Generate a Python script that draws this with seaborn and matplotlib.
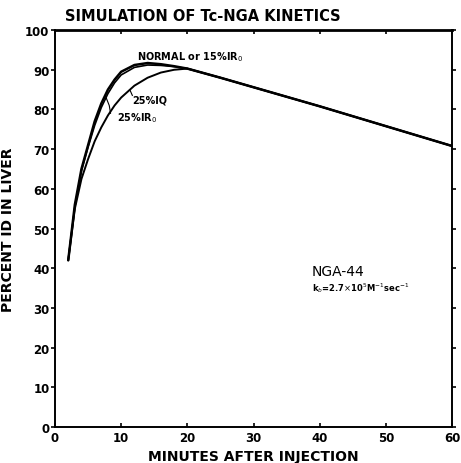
import numpy as np
import pandas as pd
import matplotlib
matplotlib.use("Agg")
import matplotlib.pyplot as plt
import seaborn as sns

sns.set_style("ticks")
plt.rcParams["font.family"] = ["DejaVu Sans"]
plt.rcParams.update({"text.color": "black", "axes.labelcolor": "black",
                     "xtick.color": "black", "ytick.color": "black",
                     "axes.edgecolor": "black"})

# ---- data ----
minutes = [2, 3, 4, 5, 6, 7, 8, 9, 10, 12, 14, 16, 18, 20,
           25, 30, 35, 40, 45, 50, 55, 60]
normal = [42, 56, 65, 71, 77, 81.5, 85, 87.5, 89.5, 91.2, 91.7, 91.4, 90.9, 90.3,
          88.0, 85.6, 83.2, 80.8, 78.3, 75.8, 73.3, 70.8]
iq25 = [42, 55.5, 64.5, 70.5, 76, 80.5, 84, 86.7, 88.7, 90.6, 91.2, 91.1, 90.8, 90.3,
        88.0, 85.6, 83.2, 80.8, 78.3, 75.8, 73.3, 70.8]
ir25 = [42, 55, 62.5, 67.5, 72, 75.5, 78.5, 81, 83, 86, 88, 89.3, 90, 90.3,
        88.0, 85.6, 83.2, 80.8, 78.3, 75.8, 73.3, 70.8]

xticks = [0, 10, 20, 30, 40, 50, 60]
yticks = [0, 10, 20, 30, 40, 50, 60, 70, 80, 90, 100]

df = pd.DataFrame({"min": minutes, "normal": normal, "iq": iq25, "ir": ir25})

fig = plt.figure(figsize=(4.61, 4.64), dpi=100)
ax = fig.add_axes([0.1193, 0.0776, 0.8612, 0.8554])

for col, lw in [("normal", 1.8), ("iq", 1.2), ("ir", 1.4)]:
    sns.lineplot(data=df, x="min", y=col, color="black", lw=lw, ax=ax)

ax.set_xlim(0, 60)
ax.set_ylim(0, 100)
ax.set_xticks(xticks)
ax.set_yticks(yticks)
ax.tick_params(axis="both", labelsize=8.5, width=1.2, length=3, pad=1)
ax.tick_params(axis="x", direction="in", top=True, pad=3)
ax.tick_params(axis="y", direction="out", right=True)
for lab in ax.get_xticklabels() + ax.get_yticklabels():
    lab.set_fontweight("bold")
for s in ax.spines.values():
    s.set_linewidth(1.4)
ax.spines["top"].set_linewidth(2.0)

ax.set_xlabel("MINUTES AFTER INJECTION", fontsize=10, fontweight="bold")
ax.set_ylabel("PERCENT ID IN LIVER", fontsize=10, fontweight="bold")
ax.xaxis.set_label_coords(0.5, -0.055)
ax.yaxis.set_label_coords(-0.10, 0.5)

fig.text(0.141, 0.965, "SIMULATION OF Tc-NGA KINETICS", fontsize=10.5,
         fontweight="bold", va="center", ha="left")

# curve labels
ax.text(12.4, 93.4, r"NORMAL or 15%IR$_0$", fontsize=7, fontweight="bold", va="center")
ax.text(11.6, 82.4, "25%IQ", fontsize=7, fontweight="bold", va="center")
ax.text(9.4, 78.0, r"25%IR$_0$", fontsize=7, fontweight="bold", va="center")
ax.plot([11.3, 11.7], [85.0, 83.5], color="black", lw=0.8)
ax.plot([7.6, 8.2, 8.4], [83.5, 81.0, 79.0], color="black", lw=0.8)

ax.text(38.8, 39.3, "NGA-44", fontsize=10, va="center")
ax.text(38.8, 35.3, r"k$_b$=2.7$\times$10$^5$M$^{-1}$sec$^{-1}$", fontsize=6,
        fontweight="bold", va="center")

fig.savefig("out.png", dpi=100)
